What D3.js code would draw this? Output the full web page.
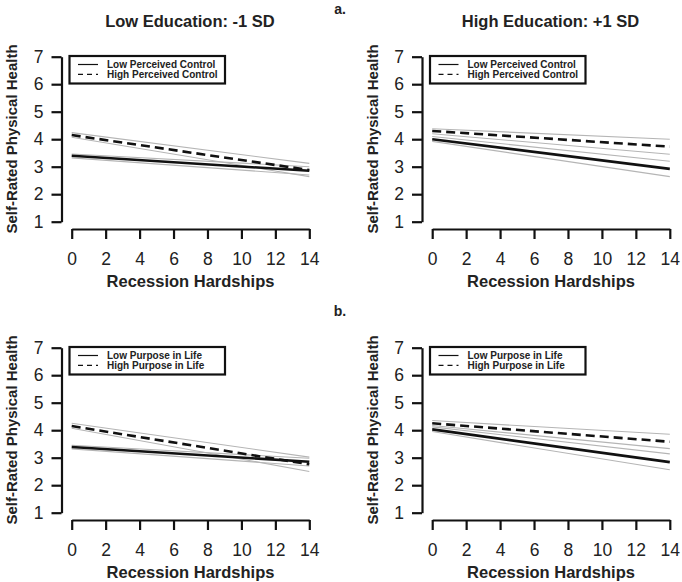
<!DOCTYPE html>
<html><head><meta charset="utf-8">
<script src="https://cdn.jsdelivr.net/npm/d3@7"></script>
<style>body{margin:0;background:#fff}svg{display:block}text{font-family:"Liberation Sans",Arial,sans-serif}</style>
</head><body><svg id="c" width="682" height="582"></svg>
<script>
const xTicks = [0,2,4,6,8,10,12,14];
const yTicks = [1,2,3,4,5,6,7];
const xEnds = [0,14];
const titles = ["Low Education: -1 SD","High Education: +1 SD","",""];
const legendLabels = [["Low Perceived Control","High Perceived Control"],["Low Perceived Control","High Perceived Control"],["Low Purpose in Life","High Purpose in Life"],["Low Purpose in Life","High Purpose in Life"]];
// estimates at hardships 0 and 14
const lowLine  = [[3.40,2.85],[4.00,2.92],[3.39,2.85],[4.03,2.84]];
const lowUpper = [[3.46,3.00],[4.10,3.20],[3.45,2.98],[4.12,3.14]];
const lowLower = [[3.32,2.70],[3.92,2.64],[3.32,2.70],[3.95,2.56]];
const highLine  = [[4.15,2.88],[4.30,3.73],[4.15,2.76],[4.25,3.58]];
const highUpper = [[4.24,3.12],[4.38,4.00],[4.25,3.02],[4.35,3.85]];
const highLower = [[4.07,2.64],[4.20,3.45],[4.07,2.50],[4.17,3.33]];

const svg = d3.select("#c");
const offsets = [[0,0],[360.5,0],[0,291],[360.5,291]];

offsets.forEach(([ox,oy],i)=>{
  const g = svg.append("g").attr("transform",`translate(${ox},${oy})`);
  const x = d3.scaleLinear().domain([0,14]).range([71.7,309.3]);
  const y = d3.scaleLinear().domain([1,7]).range([221.7,56.7]);
  const xa = g.append("g").attr("transform","translate(0,229)")
    .call(d3.axisBottom(x).tickValues(xTicks).tickFormat(d3.format("d")).tickSize(10).tickPadding(14).tickSizeOuter(0));
  const ya = g.append("g").attr("transform","translate(61.5,0)")
    .call(d3.axisLeft(y).tickValues(yTicks).tickFormat(d3.format("d")).tickSize(10).tickPadding(8).tickSizeOuter(0));
  [xa,ya].forEach(a=>{
    a.select(".domain").attr("stroke","#111").attr("stroke-width",2.2);
    a.selectAll(".tick line").attr("stroke","#111").attr("stroke-width",2.2);
    a.selectAll(".tick text").attr("font-size",17.5).attr("fill","#222")
     .attr("font-family","Liberation Sans, Arial, sans-serif");
  });
  const line = d3.line().x(d=>x(d[0])).y(d=>y(d[1]));
  const pts = v => xEnds.map((h,k)=>[h,v[k]]);
  [lowUpper[i],lowLower[i],highUpper[i],highLower[i]].forEach(v=>{
    g.append("path").attr("d",line(pts(v))).attr("fill","none").attr("stroke","#b5b5b5").attr("stroke-width",1.1);
  });
  g.append("path").attr("d",line(pts(lowLine[i]))).attr("fill","none").attr("stroke","#111").attr("stroke-width",2.6);
  g.append("path").attr("d",line(pts(highLine[i]))).attr("fill","none").attr("stroke","#111").attr("stroke-width",2.6).attr("stroke-dasharray","9,5");
  // legend
  const lg = g.append("g");
  lg.append("rect").attr("x",69.5).attr("y",56).attr("width",155.5).attr("height",27.5)
    .attr("fill","#fff").attr("stroke","#111").attr("stroke-width",2.2);
  legendLabels[i].forEach((t,k)=>{
    const yy = 64.5 + k*9.8;
    lg.append("line").attr("x1",78).attr("x2",98).attr("y1",yy).attr("y2",yy)
      .attr("stroke","#111").attr("stroke-width",1.2).attr("stroke-dasharray",k? "5,4":null);
    lg.append("text").attr("x",107).attr("y",yy).attr("dy","0.35em").attr("font-size",10)
      .attr("font-weight","bold").attr("fill","#222").text(t);
  });
  // labels
  g.append("text").attr("x",190.5).attr("y",287).attr("text-anchor","middle")
    .attr("font-size",16.5).attr("font-weight","bold").attr("fill","#222").text("Recession Hardships");
  g.append("text").attr("transform",`translate(17,139) rotate(-90)`).attr("text-anchor","middle")
    .attr("font-size",15).attr("font-weight","bold").attr("fill","#222").text("Self-Rated Physical Health");
  if(titles[i]) g.append("text").attr("x",190).attr("y",27).attr("text-anchor","middle")
    .attr("font-size",16.5).attr("font-weight","bold").attr("fill","#222").text(titles[i]);
});
svg.append("text").attr("x",340).attr("y",14).attr("text-anchor","middle").attr("font-size",14).attr("font-weight","bold").attr("fill","#222").text("a.");
svg.append("text").attr("x",340).attr("y",316).attr("text-anchor","middle").attr("font-size",14).attr("font-weight","bold").attr("fill","#222").text("b.");
</script></body></html>
